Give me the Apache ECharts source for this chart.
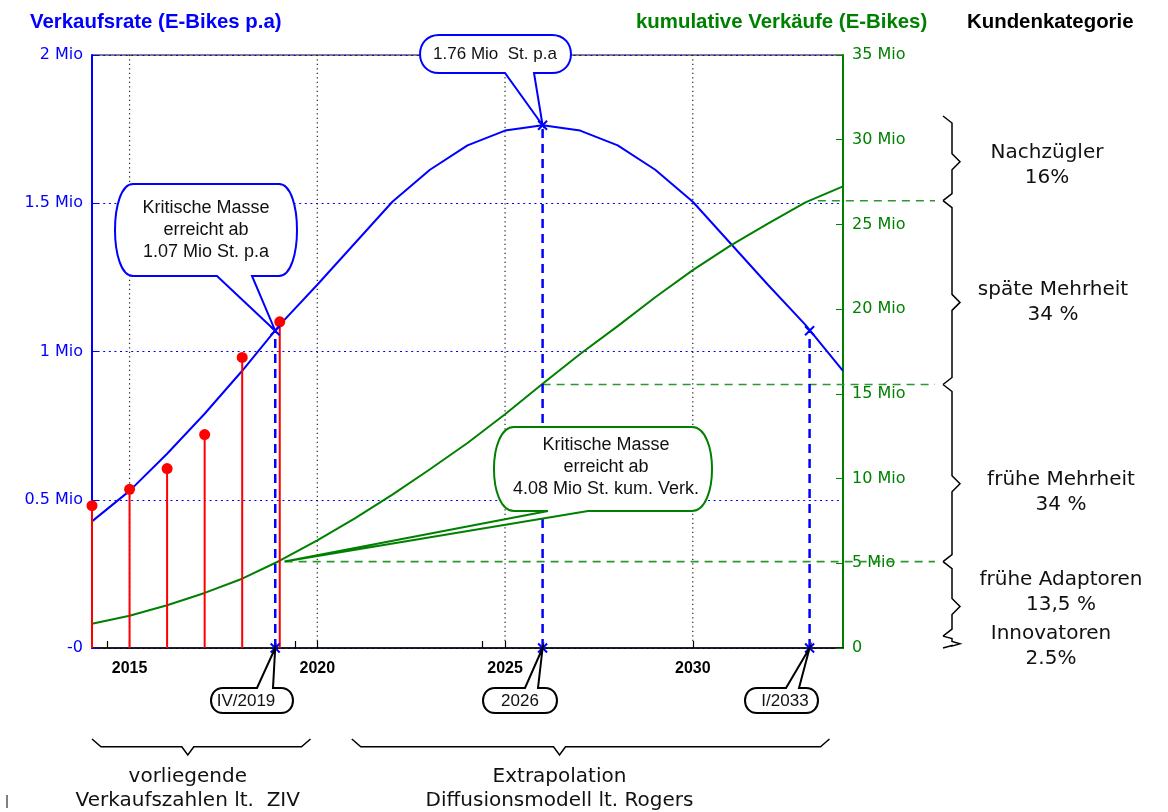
<!DOCTYPE html>
<html>
<head>
<meta charset="utf-8">
<script src="https://cdn.jsdelivr.net/npm/echarts@6/dist/echarts.min.js"></script>
<style>
  html, body { margin: 0; padding: 0; background: #fff; }
  #chart { width: 1168px; height: 812px; }
</style>
</head>
<body>
<div id="chart"></div>
<script>
// model years and values
const years = [2014, 2015, 2016, 2017, 2018, 2019, 2020, 2021, 2022, 2023, 2024,
               2025, 2026, 2027, 2028, 2029, 2030, 2031, 2032, 2033, 2034];
const rateMio = [0.427, 0.53, 0.655, 0.79, 0.935, 1.09, 1.225, 1.365, 1.505, 1.613, 1.695,
                 1.745, 1.763, 1.745, 1.695, 1.613, 1.505, 1.365, 1.225, 1.09, 0.935];
const cumMio = [1.43, 1.9, 2.52, 3.25, 4.09, 5.15, 6.35, 7.65, 9.05, 10.55, 12.1,
                13.8, 15.6, 17.35, 19.0, 20.7, 22.3, 23.75, 25.05, 26.3, 27.25];

// ZIV sales figures
const zivYears = [2014, 2015, 2016, 2017, 2018, 2019];
const zivMio = [0.48, 0.535, 0.605, 0.72, 0.98, 1.10];

// marked points on the rate curve
const keyYears = [2018.88, 2026, 2033.11];
const keyRates = [1.07, 1.763, 1.07];
const keyLabels = ['IV/2019', '2026', 'I/2033'];

// customer categories (cumulative levels, Mio)
const catNames = ['Innovatoren\n2.5%', 'frühe Adaptoren\n13,5 %', 'frühe Mehrheit\n34 %',
                  'späte Mehrheit\n34 %', 'Nachzügler\n16%'];
const catBounds = [0, 0.7, 5.1, 15.55, 26.4, 31.4];
const catTips = [0.25, 2.45, 9.7, 20.4, 28.7];
const levelStartYears = [2019.13, 2026, 2033.33];
const levelValues = [5.1, 15.55, 26.4];

// periods below the x axis
const periodStart = [2014, 2020.92];
const periodEnd = [2019.82, 2033.64];
const periodTip = [2016.55, 2026.45];
const periodNames = ['vorliegende\nVerkaufszahlen lt.  ZIV', 'Extrapolation\nDiffusionsmodell lt. Rogers'];

// axis ticks
const xLabelYears = [2015, 2020, 2025, 2030];
const xTickYears = [2014.4, 2015, 2019.4, 2020, 2024.4, 2025, 2030];

const BLUE = '#0000ff';
const GREEN = '#008000';
const DASHGREEN = '#2f962f';
const RED = '#ff0000';

// callout layout (pixels)
const callouts = [
  { box: [115, 184, 297, 276], r: 18, side: 'bottom', base: [217, 252], color: BLUE,
    text: 'Kritische Masse\nerreicht ab\n1.07 Mio St. p.a', cx: 206, cy: 230, font: '18px "Liberation Sans"', lh: 22 },
  { box: [420, 35, 571, 73], r: 19, side: 'bottom', base: [505, 534], color: BLUE,
    text: '1.76 Mio  St. p.a', cx: 495, cy: 54, font: '17px "Liberation Sans"', lh: 20 },
  { box: [211, 688, 293, 713], r: 12, side: 'top', base: [257, 273], color: '#000',
    text: keyLabels[0], cx: 246, cy: 701, font: '17px "Liberation Sans"', lh: 20 },
  { box: [483, 688, 557, 713], r: 12, side: 'top', base: [525, 538], color: '#000',
    text: keyLabels[1], cx: 520, cy: 701, font: '17px "Liberation Sans"', lh: 20 },
  { box: [745, 688, 818, 713], r: 12, side: 'top', base: [786, 799], color: '#000',
    text: keyLabels[2], cx: 785, cy: 701, font: '17px "Liberation Sans"', lh: 20 }
];
const greenCallout = { box: [494, 427, 712, 511], r: 20, side: 'bottom', base: [548, 588], color: GREEN,
  text: 'Kritische Masse\nerreicht ab\n4.08 Mio St. kum. Verk.', cx: 606, cy: 467, font: '18px "Liberation Sans"', lh: 22 };
const braceLabelX = [1051, 1061, 1061, 1053, 1047];
const braceLabelDy = [3, -14, 9, 0, 4];

function f(n) { return n.toFixed(1); }

function bubblePath(b, tx, ty) {
  const [x0, y0, x1, y1] = b.box;
  const r = b.r, k = r / 3;
  let d = 'M' + f(x0 + r) + ' ' + f(y0);
  if (b.side === 'top') d += ' L' + f(b.base[0]) + ' ' + f(y0) + ' L' + f(tx) + ' ' + f(ty) + ' L' + f(b.base[1]) + ' ' + f(y0);
  d += ' L' + f(x1 - r) + ' ' + f(y0) + ' C' + f(x1 + k) + ' ' + f(y0) + ' ' + f(x1 + k) + ' ' + f(y1) + ' ' + f(x1 - r) + ' ' + f(y1);
  if (b.side === 'bottom') d += ' L' + f(b.base[1]) + ' ' + f(y1) + ' L' + f(tx) + ' ' + f(ty) + ' L' + f(b.base[0]) + ' ' + f(y1);
  d += ' L' + f(x0 + r) + ' ' + f(y1) + ' C' + f(x0 - k) + ' ' + f(y1) + ' ' + f(x0 - k) + ' ' + f(y0) + ' ' + f(x0 + r) + ' ' + f(y0) + ' Z';
  return d;
}

function bubble(b, pt) {
  return {
    type: 'group',
    children: [
      { type: 'path', shape: { pathData: bubblePath(b, pt[0], pt[1]) },
        style: { fill: '#fff', stroke: b.color, lineWidth: 2 } },
      { type: 'text', x: b.cx, y: b.cy,
        style: { text: b.text, font: b.font, fill: '#111', align: 'center', verticalAlign: 'middle', lineHeight: b.lh } }
    ]
  };
}

function cross(p, s) {
  return 'M' + f(p[0] - s) + ' ' + f(p[1] - s) + ' L' + f(p[0] + s) + ' ' + f(p[1] + s) +
         ' M' + f(p[0] - s) + ' ' + f(p[1] + s) + ' L' + f(p[0] + s) + ' ' + f(p[1] - s);
}

const chart = echarts.init(document.getElementById('chart'));

const option = {
  animation: false,
  grid: { left: 92, right: 325, top: 55, bottom: 164, show: true, borderColor: '#000', borderWidth: 1 },
  xAxis: {
    type: 'value', min: 2014, max: 2034,
    axisLine: { lineStyle: { color: '#000', width: 1.5 } },
    axisTick: { inside: true, length: 7, customValues: xTickYears, lineStyle: { color: '#000', width: 1.2 } },
    axisLabel: { customValues: xLabelYears, margin: 13, color: '#000', fontFamily: 'Liberation Sans',
      fontWeight: 'bold', fontSize: 16, formatter: v => String(v) },
    splitLine: { show: false }
  },
  yAxis: [{
    type: 'value', min: 0, max: 2, interval: 0.5, position: 'left',
    axisLine: { show: true, lineStyle: { color: BLUE, width: 2 } },
    axisTick: { show: true, inside: true, length: 7, lineStyle: { color: BLUE } },
    axisLabel: { margin: 9, color: BLUE, fontFamily: 'DejaVu Sans', fontSize: 16,
      formatter: v => v === 0 ? '-0' : v + ' Mio' },
    splitLine: { show: true, lineStyle: { color: BLUE, type: [2, 3.6], width: 1.2 } }
  }, {
    type: 'value', min: 0, max: 35, interval: 5, position: 'right',
    axisLine: { show: true, lineStyle: { color: GREEN, width: 2 } },
    axisTick: { show: true, inside: true, length: 7, lineStyle: { color: GREEN } },
    axisLabel: { margin: 9, color: GREEN, fontFamily: 'DejaVu Sans', fontSize: 16,
      formatter: v => v === 0 ? '0' : v + ' Mio' },
    splitLine: { show: false }
  }],
  graphic: [
    { type: 'text', x: 30, y: 22, style: { text: 'Verkaufsrate (E-Bikes p.a)', font: 'bold 20.4px "Liberation Sans"', fill: BLUE, verticalAlign: 'middle' } },
    { type: 'text', x: 636, y: 22, style: { text: 'kumulative Verkäufe (E-Bikes)', font: 'bold 20.4px "Liberation Sans"', fill: GREEN, verticalAlign: 'middle' } },
    { type: 'text', x: 967, y: 22, style: { text: 'Kundenkategorie', font: 'bold 20.4px "Liberation Sans"', fill: '#000', verticalAlign: 'middle' } },
    { type: 'line', shape: { x1: 7, y1: 795, x2: 7, y2: 808 }, style: { stroke: '#000', lineWidth: 1 } }
  ],
  series: [
    // dotted vertical grid lines
    {
      type: 'custom', z: 1, silent: true,
      data: xLabelYears.map(x => [x, 0]),
      renderItem: (params, api) => {
        const a = api.coord([api.value(0), 0]);
        const b = api.coord([api.value(0), 2]);
        return { type: 'line', shape: { x1: a[0], y1: a[1] - 7, x2: b[0], y2: b[1] },
          style: { stroke: '#222', lineWidth: 1.2, lineDash: [1.2, 3.3] } };
      }
    },
    // green dashed level lines
    {
      type: 'custom', z: 2, silent: true, clip: false, yAxisIndex: 1,
      data: levelStartYears.map((x, i) => [x, levelValues[i]]),
      renderItem: (params, api) => {
        const a = api.coord([api.value(0), api.value(1)]);
        return { type: 'line', shape: { x1: a[0], y1: a[1], x2: 935, y2: a[1] },
          style: { stroke: DASHGREEN, lineWidth: 1.6, lineDash: [8, 6] } };
      }
    },
    {
      name: 'Verkaufsrate', type: 'line', z: 3, yAxisIndex: 0, showSymbol: false, smooth: false,
      data: years.map((y, i) => [y, rateMio[i]]),
      lineStyle: { color: BLUE, width: 2 }
    },
    {
      name: 'kumulative Verkäufe', type: 'line', z: 3, yAxisIndex: 1, showSymbol: false, smooth: false,
      data: years.map((y, i) => [y, cumMio[i]]),
      lineStyle: { color: GREEN, width: 2 }
    },
    // ZIV stems
    {
      type: 'custom', z: 4, yAxisIndex: 0, clip: false,
      data: zivYears.map((y, i) => [y, zivMio[i]]),
      renderItem: (params, api) => {
        const a = api.coord([api.value(0), 0]);
        const b = api.coord([api.value(0), api.value(1)]);
        return { type: 'group', children: [
          { type: 'line', shape: { x1: a[0], y1: a[1], x2: b[0], y2: b[1] }, style: { stroke: RED, lineWidth: 2 } },
          { type: 'circle', shape: { cx: b[0], cy: b[1], r: 5.5 }, style: { fill: RED } }
        ] };
      }
    },
    // key points on the rate curve
    {
      type: 'custom', z: 5, yAxisIndex: 0, clip: false,
      data: keyYears.map((y, i) => [y, keyRates[i]]),
      renderItem: (params, api) => {
        const a = api.coord([api.value(0), 0]);
        const b = api.coord([api.value(0), api.value(1)]);
        return { type: 'group', children: [
          { type: 'line', shape: { x1: a[0], y1: a[1], x2: b[0], y2: b[1] },
            style: { stroke: BLUE, lineWidth: 2.5, lineDash: [9, 6] } },
          { type: 'path', shape: { pathData: cross(a, 4.5) }, style: { stroke: BLUE, lineWidth: 2, fill: null } },
          { type: 'path', shape: { pathData: cross(b, 4.5) }, style: { stroke: BLUE, lineWidth: 2, fill: null } }
        ] };
      }
    },
    // right-hand braces with category names
    {
      type: 'custom', z: 5, yAxisIndex: 1, clip: false, silent: true,
      data: catNames.map((n, i) => [2034, catBounds[i], catBounds[i + 1], catTips[i], i]),
      renderItem: (params, api) => {
        const i = api.value(4);
        const yb = api.coord([2034, api.value(1)])[1];
        const yt = api.coord([2034, api.value(2)])[1];
        const ym = api.coord([2034, api.value(3)])[1];
        const h = yb - yt;
        const e = Math.min(7, h * 0.2), t = Math.min(8, h * 0.2);
        const xe = 943, xs = 952, xt = 960;
        const d = 'M' + xe + ' ' + f(yt) + ' L' + xs + ' ' + f(yt + e) + ' L' + xs + ' ' + f(ym - t) +
          ' L' + xt + ' ' + f(ym) + ' L' + xs + ' ' + f(ym + t) + ' L' + xs + ' ' + f(yb - e) + ' L' + xe + ' ' + f(yb);
        return { type: 'group', children: [
          { type: 'path', shape: { pathData: d }, style: { stroke: '#000', lineWidth: 1.5, fill: null } },
          { type: 'text', x: braceLabelX[i], y: ym + braceLabelDy[i],
            style: { text: catNames[i], font: '20px "DejaVu Sans"', fill: '#111', align: 'center', verticalAlign: 'middle', lineHeight: 25 } }
        ] };
      }
    },
    // braces below the x axis
    {
      type: 'custom', z: 5, yAxisIndex: 0, clip: false, silent: true,
      data: periodNames.map((n, i) => [periodStart[i], 0, periodEnd[i], periodTip[i], i]),
      renderItem: (params, api) => {
        const i = api.value(4);
        const x0 = api.coord([api.value(0), 0])[0];
        const x1 = api.coord([api.value(2), 0])[0];
        const xm = api.coord([api.value(3), 0])[0];
        const ye = 739, yl = 746.7, yt = 755;
        const d = 'M' + f(x0) + ' ' + ye + ' L' + f(x0 + 9) + ' ' + yl + ' L' + f(xm - 6) + ' ' + yl +
          ' L' + f(xm) + ' ' + yt + ' L' + f(xm + 6) + ' ' + yl + ' L' + f(x1 - 9) + ' ' + yl + ' L' + f(x1) + ' ' + ye;
        return { type: 'group', children: [
          { type: 'path', shape: { pathData: d }, style: { stroke: '#000', lineWidth: 1.5, fill: null } },
          { type: 'text', x: xm, y: 789,
            style: { text: periodNames[i], font: '20px "DejaVu Sans"', fill: '#111', align: 'center', verticalAlign: 'middle', lineHeight: 24 } }
        ] };
      }
    },
    // callouts on the rate axis
    {
      type: 'custom', z: 10, yAxisIndex: 0, clip: false,
      data: [[keyYears[0], keyRates[0], 0], [keyYears[1], keyRates[1], 1],
             [keyYears[0], 0, 2], [keyYears[1], 0, 3], [keyYears[2], 0, 4]],
      renderItem: (params, api) => bubble(callouts[api.value(2)], api.coord([api.value(0), api.value(1)]))
    },
    // callout on the cumulative axis
    {
      type: 'custom', z: 10, yAxisIndex: 1, clip: false,
      data: [[levelStartYears[0], levelValues[0]]],
      renderItem: (params, api) => bubble(greenCallout, api.coord([api.value(0), api.value(1)]))
    }
  ]
};

chart.setOption(option);
</script>
</body>
</html>
